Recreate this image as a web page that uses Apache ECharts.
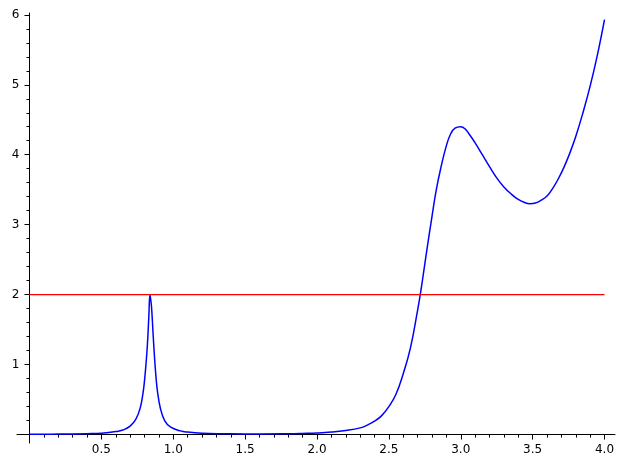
<!DOCTYPE html>
<html>
<head>
<meta charset="utf-8">
<script src="https://cdn.jsdelivr.net/npm/echarts@6/dist/echarts.min.js"></script>
<style>
html,body{margin:0;padding:0;background:#fff;}
#chart{width:626px;height:468px;}
</style>
</head>
<body>
<div id="chart"></div>
<script>
// Blue curve
const curveX = [0.00, 0.20, 0.40, 0.50, 0.60, 0.65, 0.70, 0.74, 0.77, 0.79, 0.80, 0.81, 0.82, 0.83, 0.838,
  0.845, 0.85, 0.86, 0.87, 0.88, 0.89, 0.91, 0.94, 0.98, 1.05, 1.10, 1.20, 1.40, 1.60, 1.80, 1.90,
  2.00, 2.10, 2.20, 2.30, 2.35, 2.40, 2.45, 2.50, 2.55, 2.60, 2.65, 2.70, 2.72, 2.76, 2.80, 2.83,
  2.86, 2.90, 2.93, 2.96, 3.00, 3.03, 3.06, 3.10, 3.15, 3.20, 3.25, 3.30, 3.35, 3.40, 3.44, 3.48, 3.52,
  3.56, 3.60, 3.64, 3.68, 3.72, 3.76, 3.80, 3.85, 3.90, 3.95, 4.00];
const curveY = [0.003, 0.006, 0.013, 0.02, 0.042, 0.065, 0.12, 0.22, 0.38, 0.60, 0.77, 1.00, 1.28, 1.68, 2.00,
  1.90, 1.79, 1.43, 1.09, 0.82, 0.62, 0.38, 0.20, 0.11, 0.052, 0.035, 0.02, 0.01, 0.009, 0.012, 0.016,
  0.022, 0.035, 0.058, 0.095, 0.135, 0.19, 0.27, 0.40, 0.58, 0.87, 1.24, 1.78, 2.02, 2.58, 3.12, 3.50,
  3.80, 4.13, 4.30, 4.38, 4.40, 4.37, 4.29, 4.17, 4.00, 3.83, 3.67, 3.54, 3.44, 3.36, 3.32, 3.30, 3.31,
  3.35, 3.41, 3.52, 3.66, 3.83, 4.03, 4.26, 4.60, 4.98, 5.42, 5.93];
// Red horizontal line
const refX = [0, 4];
const refY = [2, 2];
// Axis ticks and labels
const xLabelValues = [0.5, 1.0, 1.5, 2.0, 2.5, 3.0, 3.5, 4.0];
const xMinorValues = [0.1,0.2,0.3,0.4,0.5,0.6,0.7,0.8,0.9,1.0,1.1,1.2,1.3,1.4,1.5,1.6,1.7,1.8,1.9,2.0,
  2.1,2.2,2.3,2.4,2.5,2.6,2.7,2.8,2.9,3.0,3.1,3.2,3.3,3.4,3.5,3.6,3.7,3.8,3.9,4.0];
const yLabelValues = [1, 2, 3, 4, 5, 6];
const yMinorValues = [0.2,0.4,0.6,0.8,1.0,1.2,1.4,1.6,1.8,2.0,2.2,2.4,2.6,2.8,3.0,3.2,3.4,3.6,3.8,4.0,
  4.2,4.4,4.6,4.8,5.0,5.2,5.4,5.6,5.8,6.0];

const XMIN = -0.087, XMAX = 4.073, YMIN = -0.121, YMAX = 6.026;
const W = 626, H = 468;
const G = {left: 17, right: 11, top: 13, bottom: 25};
const gridW = W - G.left - G.right, gridH = H - G.top - G.bottom;
// offsets that move the second (major-tick) axes onto the zero lines
const xAxisShift = -(0 - YMIN) / (YMAX - YMIN) * gridH;
const yAxisShift = -(0 - XMIN) / (XMAX - XMIN) * gridW;
const FONT = 'DejaVu Sans';

const chart = echarts.init(document.getElementById('chart'), null, {renderer: 'canvas'});

chart.setOption({
  animation: false,
  backgroundColor: '#fff',
  grid: Object.assign({containLabel: false, outerBoundsMode: 'none'}, G),
  xAxis: [
    {
      type: 'value', min: XMIN, max: XMAX, position: 'bottom',
      axisLine: {show: true, onZero: true, onZeroAxisIndex: 0, lineStyle: {color: '#000', width: 1}},
      axisTick: {show: true, customValues: xMinorValues, length: 3, lineStyle: {color: '#000', width: 1}},
      axisLabel: {show: false},
      splitLine: {show: false}
    },
    {
      type: 'value', min: XMIN, max: XMAX, position: 'bottom', offset: xAxisShift,
      axisLine: {show: false, onZero: false},
      axisTick: {show: true, customValues: xLabelValues, length: 5, lineStyle: {color: '#000', width: 1}},
      axisLabel: {show: true, customValues: xLabelValues, formatter: v => v.toFixed(1), color: '#000',
        fontFamily: FONT, fontSize: 12, margin: 9, hideOverlap: false},
      splitLine: {show: false}
    }
  ],
  yAxis: [
    {
      type: 'value', min: YMIN, max: YMAX, position: 'left',
      axisLine: {show: true, onZero: true, onZeroAxisIndex: 0, lineStyle: {color: '#000', width: 1}},
      axisTick: {show: true, customValues: yMinorValues, length: 3, lineStyle: {color: '#000', width: 1}},
      axisLabel: {show: false},
      splitLine: {show: false}
    },
    {
      type: 'value', min: YMIN, max: YMAX, position: 'left', offset: yAxisShift,
      axisLine: {show: false, onZero: false},
      axisTick: {show: true, customValues: yLabelValues, length: 5, lineStyle: {color: '#000', width: 1}},
      axisLabel: {show: true, customValues: yLabelValues, formatter: v => String(v), color: '#000',
        fontFamily: FONT, fontSize: 12, margin: 10, hideOverlap: false},
      splitLine: {show: false}
    }
  ],
  series: [
    {
      type: 'line', xAxisIndex: 0, yAxisIndex: 0,
      data: curveX.map((x, i) => [x, curveY[i]]),
      showSymbol: false, smooth: 0.45,
      lineStyle: {color: '#0000ff', width: 1.5},
      z: 2
    },
    {
      type: 'line', xAxisIndex: 0, yAxisIndex: 0,
      data: refX.map((x, i) => [x, refY[i]]),
      showSymbol: false,
      lineStyle: {color: '#ff0000', width: 1.2},
      z: 3
    }
  ]
});
</script>
</body>
</html>
